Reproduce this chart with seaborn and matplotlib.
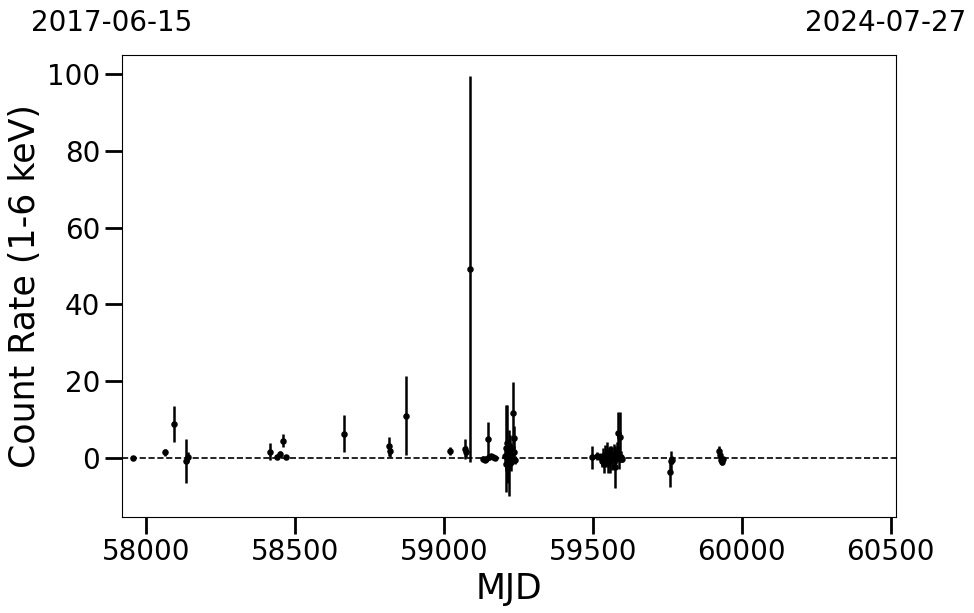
import numpy as np
import pandas as pd
import matplotlib
matplotlib.use("Agg")
import matplotlib.pyplot as plt
import seaborn as sns

# date range shown on top of the plot (also the x limits, in MJD)
start_date = "2017-06-15"
end_date = "2024-07-27"

# light curve: MJD, count rate (1-6 keV) and 1-sigma error
mjd = [57957, 58064, 58094, 58133, 58142,
       58416, 58441, 58450, 58460, 58471,
       58665, 58816, 58819, 58874, 59020,
       59071, 59073, 59088,
       59131, 59137, 59143, 59147, 59150, 59157, 59165, 59171,
       59205, 59208, 59210, 59212, 59214, 59216, 59218, 59220, 59222,
       59224, 59226, 59228, 59230, 59232, 59234, 59236, 59238,
       59496, 59515,
       59525, 59530, 59534, 59538, 59541, 59545, 59548, 59551, 59555,
       59558, 59562, 59566, 59570, 59574, 59578, 59581, 59584, 59587,
       59590, 59594, 59597,
       59759, 59762, 59765,
       59925, 59927, 59930, 59934, 59938]
rate = [0.0, 1.4, 8.8, -0.8, 0.2,
        1.6, 0.1, 1.0, 4.5, 0.2,
        6.3, 3.0, 1.8, 11.0, 1.8,
        2.3, 1.6, 49.2,
        -0.2, -0.5, -0.3, 4.9, 0.2, 0.4, 0.1, -0.1,
        0.5, -1.5, 2.5, 3.8, -2.5, 1.0, -1.3, 0.3, 2.0,
        -1.0, 0.8, -0.3, 1.5, 11.7, 5.2, 1.6, -0.5,
        0.1, 0.5,
        0.3, -0.8, 0.5, -1.5, 0.8, -0.3, 1.2, -1.0, 0.2,
        -0.5, 1.0, -0.2, 0.6, -2.5, 0.4, 1.5, 6.5, 0.0,
        5.4, 0.3, -0.2,
        -3.6, -0.8, -0.5,
        1.9, 0.8, -0.5, -1.1, -0.3]
rate_err = [0.5, 0.9, 4.75, 5.8, 1.2,
            2.3, 0.4, 0.8, 1.7, 0.3,
            4.8, 2.4, 1.5, 10.2, 1.0,
            2.6, 1.4, 50.3,
            0.6, 0.5, 0.7, 4.5, 0.8, 0.6, 0.5, 0.4,
            1.5, 2.0, 11.3, 10.0, 4.0, 3.5, 8.6, 2.0, 4.0,
            2.5, 3.0, 1.5, 2.0, 8.0, 3.0, 1.5, 1.0,
            3.0, 1.0,
            1.0, 1.5, 2.0, 2.5, 2.5, 2.0, 3.0, 3.0, 2.5,
            3.5, 2.0, 3.0, 3.0, 5.5, 2.0, 2.5, 5.5, 3.0,
            6.5, 1.5, 1.0,
            3.9, 2.7, 1.0,
            1.2, 1.0, 1.0, 0.7, 0.5]

df = pd.DataFrame({"MJD": mjd, "rate": rate, "err": rate_err})

mjd_zero = pd.Timestamp("1858-11-17")
x_lo = (pd.Timestamp(start_date) - mjd_zero).days
x_hi = (pd.Timestamp(end_date) - mjd_zero).days

sns.set_style("ticks")
plt.rcParams['font.family'] = ['DejaVu Sans']
for key in ["text.color", "axes.labelcolor", "xtick.color", "ytick.color"]:
    plt.rcParams[key] = "black"

fig = plt.figure(figsize=(9.74, 6.13), dpi=100)
ax = fig.add_axes([0.125, 0.157, 0.795, 0.753])

# error bars + points
ax.errorbar(df["MJD"], df["rate"], yerr=df["err"], fmt="none",
            ecolor="black", elinewidth=1.8, capsize=0, zorder=2)
sns.scatterplot(data=df, x="MJD", y="rate", ax=ax, color="black",
                s=22, edgecolor="black", linewidth=0, zorder=3)

ax.axhline(0, color="black", linestyle="--", linewidth=1.2, zorder=1)

ax.set_xlim(x_lo, x_hi)
ax.set_xticks([58000, 58500, 59000, 59500, 60000, 60500])
ax.set_yticks([0, 20, 40, 60, 80, 100])
ax.set_xlabel("MJD", fontsize=25)
ax.set_ylabel("Count Rate (1-6 keV)", fontsize=25)
ax.tick_params(axis="both", labelsize=20, length=12, width=2, direction="out")
for sp in ax.spines.values():
    sp.set_linewidth(0.8)
    sp.set_color("black")

# start / end dates of the window along the top
ax.text(-0.013, 1.07, start_date, transform=ax.transAxes, ha="center",
        va="center", fontsize=20)
ax.text(0.986, 1.07, end_date, transform=ax.transAxes, ha="center",
        va="center", fontsize=20)

fig.savefig("out.png", dpi=100)
